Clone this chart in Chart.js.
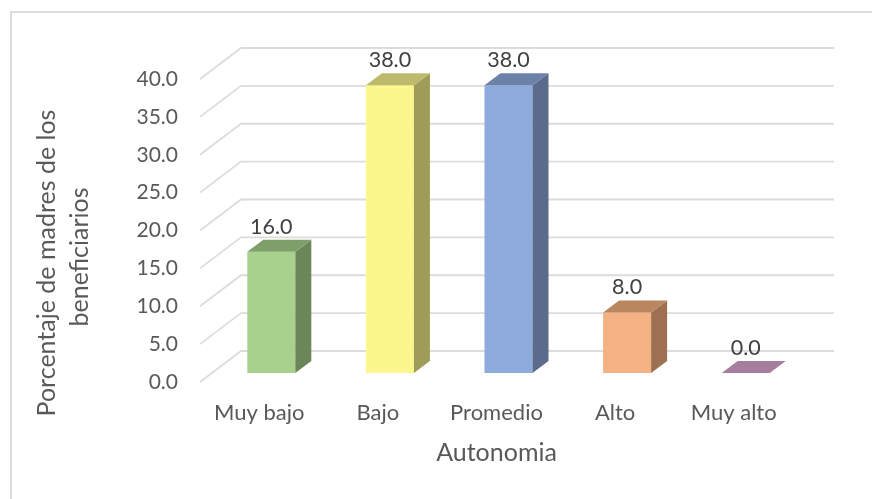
<!DOCTYPE html>
<html>
<head>
<meta charset="utf-8">
<script src="https://cdn.jsdelivr.net/npm/chart.js@4"></script>
<style>
    html, body { margin: 0; padding: 0; background: #fff; overflow: hidden; }
    #box { position: absolute; left: 10px; top: 11px; width: 872px; height: 499px; border: 2px solid #dcdcdc; }
    #wrap { position: absolute; left: 0; top: 0; width: 872px; height: 499px; }
</style>
</head>
<body>
<div id="box"></div>
<div id="wrap"><canvas id="chart"></canvas></div>
<script>
const categories = ["Muy bajo", "Bajo", "Promedio", "Alto", "Muy alto"];
const values = [16, 38, 38, 8, 0];
const frontColors = ["#A9D18E", "#FBF78C", "#8FAADC", "#F4B183", "#B58CAB"];
const sideColors = ["#6B8759", "#9E9C58", "#5A6B8C", "#9C7050", "#7A5F75"];
const topColors = ["#7F9F6A", "#BDBB6B", "#6C81A8", "#BA8660", "#A87E9E"];
const yTitleLines = ["Porcentaje de madres de los", "beneficiarios"];

const FONT = "Lato, sans-serif";

// fake 3D: the bars sit in front of a back wall, like the office chart
const wall = { dx: 41, dy: -31 };
const barShift = { dx: 12, dy: -9 };
const barDepth = { dx: 16, dy: -12 };

function face(ctx, color, pts) {
    ctx.fillStyle = color;
    ctx.beginPath();
    pts.forEach((p, i) => (i ? ctx.lineTo(p[0], p[1]) : ctx.moveTo(p[0], p[1])));
    ctx.closePath();
    ctx.fill();
}

const fake3d = {
    id: "fake3d",
    beforeDatasetsDraw(chart) {
        const { ctx, chartArea, scales } = chart;
        ctx.save();
        ctx.strokeStyle = "#dcdcdc";
        ctx.lineWidth = 1.8;
        scales.y.ticks.forEach((t) => {
            const y = scales.y.getPixelForValue(t.value);
            ctx.beginPath();
            ctx.moveTo(chartArea.left, y);
            ctx.lineTo(chartArea.left + wall.dx, y + wall.dy);
            ctx.lineTo(chartArea.right + wall.dx, y + wall.dy);
            ctx.stroke();
        });
        ctx.restore();
    },
    beforeDatasetDraw(chart) {
        chart.ctx.save();
        chart.ctx.translate(barShift.dx, barShift.dy);
    },
    afterDatasetDraw(chart, args) {
        const ctx = chart.ctx;
        const { dx, dy } = barDepth;
        args.meta.data.forEach((bar, i) => {
            const l = bar.x - bar.width / 2;
            const r = bar.x + bar.width / 2;
            if (bar.base - bar.y > 0) {
                face(ctx, sideColors[i], [[r, bar.y], [r + dx, bar.y + dy], [r + dx, bar.base + dy], [r, bar.base]]);
            }
            face(ctx, topColors[i], [[l, bar.y], [l + dx, bar.y + dy], [r + dx, bar.y + dy], [r, bar.y]]);
        });
        ctx.restore();
    },
    afterDatasetsDraw(chart) {
        const ctx = chart.ctx;
        ctx.save();
        ctx.font = "21.5px " + FONT;
        ctx.fillStyle = "#404040";
        ctx.textAlign = "center";
        ctx.textBaseline = "middle";
        chart.getDatasetMeta(0).data.forEach((bar, i) => {
            ctx.fillText(values[i].toFixed(1), bar.x + barShift.dx, bar.y + barShift.dy - 25);
        });
        // y title, off-centre in the original so not the axis own title
        ctx.font = "25px " + FONT;
        ctx.fillStyle = "#595959";
        ctx.translate(47, 263);
        ctx.rotate(-Math.PI / 2);
        ctx.fillText(yTitleLines[0], 0, 0);
        ctx.fillText(yTitleLines[1], 6, 33);
        ctx.restore();
    },
};

new Chart(document.getElementById("chart"), {
    type: "bar",
    data: {
        labels: categories,
        datasets: [
            {
                data: values,
                backgroundColor: frontColors,
                barPercentage: 0.405,
                categoryPercentage: 1,
            },
        ],
    },
    plugins: [fake3d],
    options: {
        responsive: true,
        maintainAspectRatio: false,
        animation: false,
        layout: { padding: { top: 79, right: 79, left: 0, bottom: 0 } },
        plugins: { legend: { display: false }, tooltip: { enabled: false } },
        scales: {
            x: {
                grid: { display: false, drawTicks: false },
                border: { display: false },
                ticks: { color: "#595959", font: { family: FONT, size: 22 }, padding: 18, maxRotation: 0 },
                title: {
                    display: true,
                    text: "Autonomia",
                    color: "#595959",
                    font: { family: FONT, size: 25 },
                    padding: { top: 14, bottom: 31 },
                },
                afterFit(scale) {
                    scale.height = 117;
                },
            },
            y: {
                min: 0,
                max: 40,
                grid: { display: false, drawTicks: false },
                border: { display: false },
                ticks: {
                    stepSize: 5,
                    color: "#595959",
                    font: { family: FONT, size: 21 },
                    padding: 22,
                    callback: (value) => value.toFixed(1),
                },
                afterFit(scale) {
                    scale.width = 200;
                },
            },
        },
    },
});
</script>
</body>
</html>
